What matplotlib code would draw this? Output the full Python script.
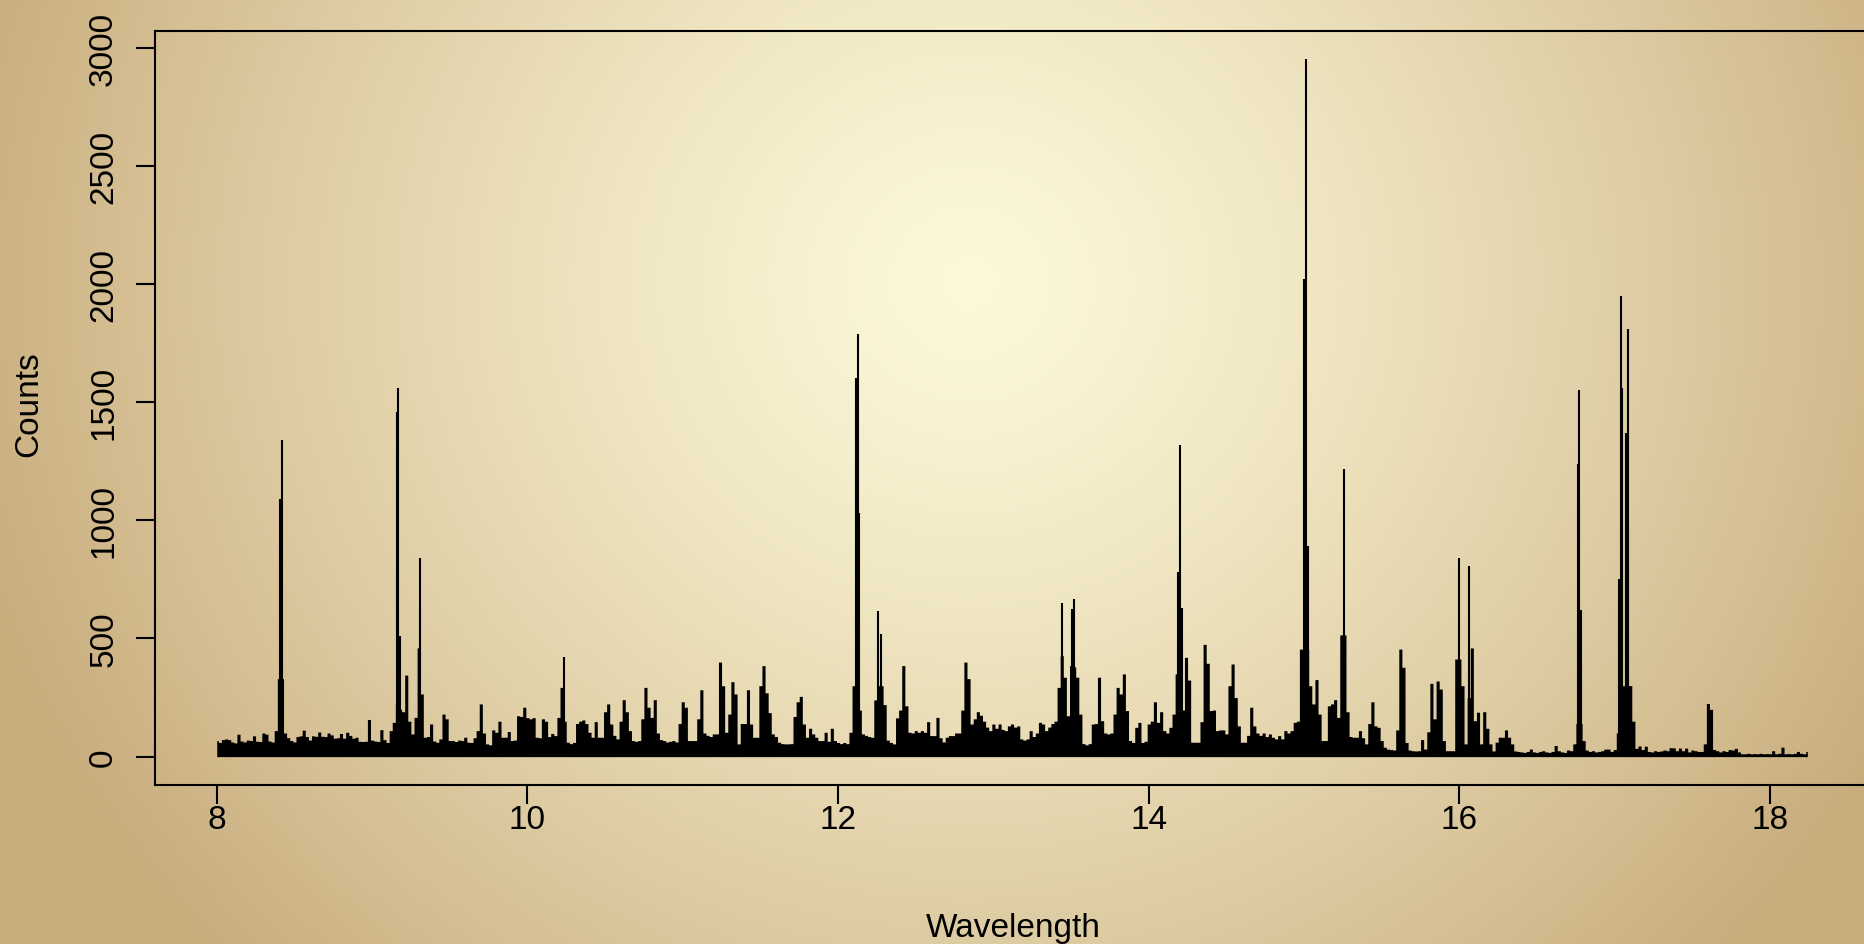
import numpy as np
import matplotlib
matplotlib.use("Agg")
import matplotlib.pyplot as plt

# espectro: cuentas cada 0.02 de longitud de onda, desde 8.00
wl_start = 8.0
wl_step = 0.02
counts = [
    68, 60, 72, 75, 72, 62, 58, 95, 66, 62,
    70, 68, 88, 65, 64, 100, 95, 66, 62, 110,
    330, 330, 100, 80, 68, 62, 85, 88, 112, 85,
    70, 88, 86, 104, 86, 85, 100, 92, 78, 80,
    98, 78, 103, 90, 78, 82, 65, 64, 65, 157,
    70, 66, 64, 114, 72, 60, 110, 145, 220, 200,
    190, 345, 150, 96, 166, 460, 265, 82, 85, 138,
    66, 61, 75, 180, 160, 68, 68, 64, 70, 68,
    82, 61, 60, 80, 110, 223, 100, 54, 50, 113,
    103, 150, 82, 82, 106, 68, 70, 173, 170, 209,
    165, 160, 165, 82, 80, 160, 150, 85, 98, 89,
    166, 293, 150, 61, 55, 60, 140, 150, 155, 140,
    103, 82, 148, 82, 82, 190, 223, 138, 90, 75,
    150, 241, 190, 110, 68, 65, 68, 160, 293, 209,
    166, 241, 100, 72, 68, 62, 65, 68, 62, 140,
    232, 209, 68, 68, 68, 160, 283, 100, 90, 85,
    96, 96, 400, 300, 103, 180, 317, 265, 54, 140,
    140, 283, 138, 82, 82, 300, 385, 270, 186, 96,
    85, 61, 55, 54, 54, 55, 170, 232, 255, 138,
    82, 120, 96, 82, 68, 68, 103, 65, 120, 68,
    60, 55, 60, 55, 103, 300, 300, 197, 96, 90,
    85, 82, 240, 300, 300, 220, 70, 60, 54, 164,
    197, 385, 215, 103, 100, 110, 103, 110, 103, 148,
    89, 89, 166, 80, 62, 82, 89, 89, 100, 100,
    197, 400, 330, 138, 160, 190, 175, 150, 125, 110,
    138, 120, 138, 115, 110, 130, 138, 125, 130, 75,
    70, 75, 110, 85, 100, 145, 138, 110, 125, 140,
    150, 293, 427, 336, 173, 385, 380, 336, 180, 55,
    50, 55, 138, 140, 336, 152, 100, 96, 100, 180,
    293, 265, 350, 195, 68, 60, 124, 145, 60, 65,
    138, 150, 232, 145, 190, 110, 100, 124, 180, 350,
    350, 197, 420, 324, 61, 61, 61, 148, 475, 395,
    195, 197, 110, 113, 113, 96, 300, 392, 250, 130,
    61, 61, 90, 209, 130, 100, 90, 100, 85, 96,
    82, 75, 89, 75, 110, 100, 110, 145, 150, 455,
    455, 455, 300, 223, 326, 180, 68, 68, 215, 223,
    241, 166, 515, 515, 190, 85, 82, 82, 110, 80,
    54, 140, 232, 130, 124, 68, 40, 32, 30, 28,
    113, 455, 378, 60, 28, 25, 24, 25, 72, 32,
    105, 310, 160, 320, 286, 68, 25, 25, 25, 413,
    413, 300, 54, 250, 460, 152, 188, 54, 190, 120,
    54, 24, 61, 82, 82, 113, 82, 54, 24, 22,
    20, 18, 22, 32, 20, 18, 22, 25, 20, 18,
    22, 47, 25, 20, 18, 28, 25, 54, 140, 140,
    68, 28, 22, 25, 20, 22, 25, 32, 32, 22,
    30, 100, 300, 300, 300, 300, 150, 35, 45, 30,
    44, 22, 20, 25, 22, 24, 28, 25, 38, 37,
    25, 36, 25, 36, 20, 28, 25, 22, 22, 54,
    225, 200, 30, 25, 20, 25, 22, 30, 28, 35,
    20, 12, 12, 14, 12, 13, 12, 14, 12, 13,
    12, 25, 12, 14, 40, 12, 13, 12, 14, 22,
    14, 12, 22,
]

# lineas estrechas que sobresalen
line_wl = [8.410, 8.420, 9.158, 9.168, 9.178, 9.308, 10.235,
           12.118, 12.128, 12.138, 12.255, 12.275, 13.440, 13.508, 13.522,
           14.190, 14.203, 14.212, 14.993, 15.000, 15.015, 15.025, 15.255,
           16.000, 16.065, 16.762, 16.772, 16.782,
           17.028, 17.042, 17.050, 17.074, 17.088, 17.097]
line_counts = [1090, 1340, 1460, 1560, 510, 840, 420,
               1600, 1790, 1030, 615, 520, 650, 625, 665,
               780, 1320, 630, 445, 2020, 2950, 890, 1215,
               840, 805, 1240, 1550, 620,
               750, 1950, 1560, 1370, 1810, 300]

x_ticks = [8, 10, 12, 14, 16, 18]
y_ticks = [0, 500, 1000, 1500, 2000, 2500, 3000]

plt.rcParams['font.family'] = ['Liberation Sans', 'DejaVu Sans']

W, H = 1864, 945
fig = plt.figure(figsize=(W / 100, H / 100), dpi=100)

# fondo con degradado radial
bg = fig.add_axes([0, 0, 1, 1], zorder=0)
yy, xx = np.mgrid[0:H, 0:W]
r = np.sqrt(((xx - 0.52 * W) / (0.56 * W)) ** 2 + ((yy - 0.30 * H) / (1.05 * H)) ** 2)
t = np.clip(r, 0, 1) ** 1.3
c0 = np.array([252, 248, 216]) / 255
c1 = np.array([200, 172, 124]) / 255
img = c0 + (c1 - c0) * t[..., None]
bg.imshow(img, aspect='auto', extent=[0, 1, 0, 1], interpolation='bilinear')
bg.axis('off')

ax = fig.add_axes([154.6 / W, 159 / H, (1871 - 154.6) / W, (786 - 32) / H], zorder=1)
ax.patch.set_alpha(0)

wl = wl_start + wl_step * np.arange(len(counts))
ax.fill_between(wl, counts, step='mid', color='black', linewidth=0)
ax.vlines(line_wl, 0, line_counts, color='black', linewidth=1.5)

ax.set_xlim(7.60, 18.65)
ax.set_ylim(-120, 3070)
ax.set_xticks(x_ticks)
ax.set_yticks(y_ticks)
ax.set_xticklabels([str(v) for v in x_ticks])
ax.set_yticklabels([str(v) for v in y_ticks], rotation=90, va='center', ha='right')

for s in ax.spines.values():
    s.set_linewidth(1.5)
ax.tick_params(axis='both', length=13.5, width=1.5, labelsize=24)
ax.tick_params(axis='x', pad=0.5)
ax.tick_params(axis='y', pad=12)

ax.set_xlabel('Wavelength', fontsize=24, va='center')
ax.xaxis.set_label_coords(0.5, -0.189)
ax.set_ylabel('Counts', fontsize=24, va='center')
ax.yaxis.set_label_coords(-0.0735, 0.507)

plt.savefig('out.png', dpi=100)
